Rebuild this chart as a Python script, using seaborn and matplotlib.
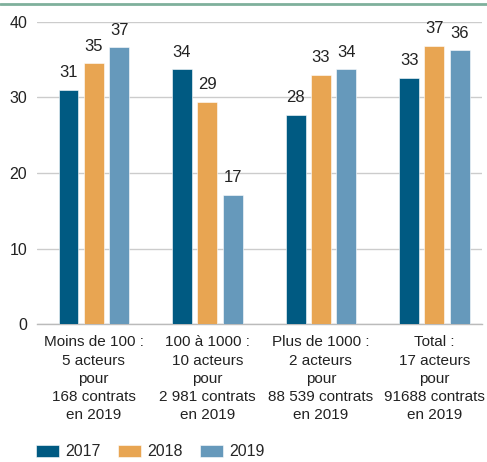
import matplotlib
matplotlib.use("Agg")
import matplotlib.pyplot as plt
import seaborn as sns
import pandas as pd
from matplotlib.lines import Line2D

categories = [
    "Moins de 100 :\n5 acteurs\npour\n168 contrats\nen 2019",
    "100 à 1000 :\n10 acteurs\npour\n2 981 contrats\nen 2019",
    "Plus de 1000 :\n2 acteurs\npour\n88 539 contrats\nen 2019",
    "Total :\n17 acteurs\npour\n91688 contrats\nen 2019",
]
years = ["2017", "2018", "2019"]
values_2017 = [31.0, 33.7, 27.7, 32.6]
values_2018 = [34.5, 29.4, 33.0, 36.8]
values_2019 = [36.6, 17.1, 33.7, 36.2]
labels_2017 = ["31", "34", "28", "33"]
labels_2018 = ["35", "29", "33", "37"]
labels_2019 = ["37", "17", "34", "36"]
yticks = [0, 10, 20, 30, 40]

colors = ["#005a82", "#e8a552", "#6699bb"]

rows = []
for yr, vals in zip(years, [values_2017, values_2018, values_2019]):
    for c, v in zip(categories, vals):
        rows.append({"cat": c, "year": yr, "val": v})
df = pd.DataFrame(rows)

sns.set_style("white")
plt.rcParams["font.family"] = ["Liberation Sans Narrow", "Liberation Sans", "DejaVu Sans"]

fig = plt.figure(figsize=(4.87, 4.62), dpi=100)
ax = fig.add_axes([0.076, 0.298, 0.914, 0.655])

sns.barplot(data=df, x="cat", y="val", hue="year", palette=colors,
            order=categories, hue_order=years, width=0.668, gap=0.21,
            saturation=1, edgecolor="white", linewidth=0.4, ax=ax, zorder=3)

for cont, labs in zip(ax.containers, [labels_2017, labels_2018, labels_2019]):
    ax.bar_label(cont, labels=labs, padding=7, fontsize=12, color="#222222")

ax.set_ylim(0, 40)
ax.set_xlim(-0.5, 3.42)
ax.set_yticks(yticks)
ax.yaxis.grid(True, color="#cccccc", linewidth=1, zorder=0)
ax.set_axisbelow(True)
for s in ["top", "right", "left"]:
    ax.spines[s].set_visible(False)
ax.spines["bottom"].set_color("#bbbbbb")
ax.spines["bottom"].set_linewidth(1)
ax.tick_params(axis="y", length=0, pad=7, labelsize=11.5, labelcolor="#222222")
ax.tick_params(axis="x", length=0, pad=8, labelsize=11, labelcolor="#222222")
for t in ax.get_xticklabels():
    t.set_linespacing(1.38)
ax.set_xlabel("")
ax.set_ylabel("")

sns.move_legend(ax, "lower left", bbox_to_anchor=(0.074, 0.006),
                bbox_transform=fig.transFigure, ncol=3, frameon=False,
                title=None, fontsize=11.5, handlelength=1.45, handleheight=0.75,
                handletextpad=0.4, columnspacing=1.05, borderpad=0,
                borderaxespad=0)

fig.add_artist(Line2D([0, 1], [0.991, 0.991], transform=fig.transFigure,
                      color="#7fb09c", linewidth=2))

fig.savefig("out.png", dpi=100)
